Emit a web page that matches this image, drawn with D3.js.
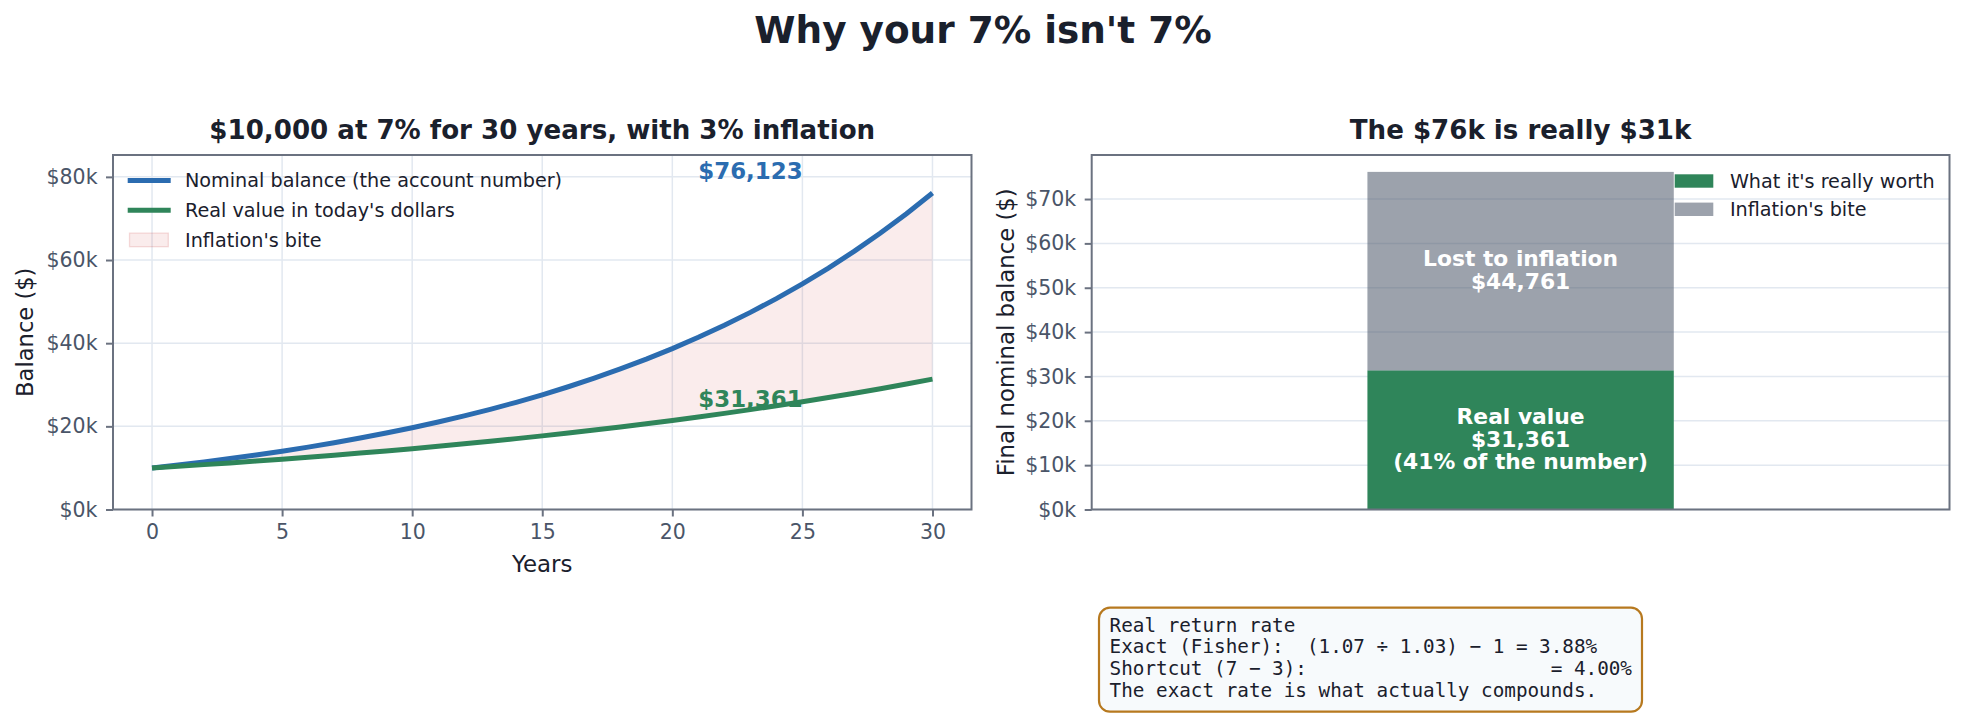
<!DOCTYPE html>
<html>
<head>
<meta charset="utf-8">
<script src="https://cdn.jsdelivr.net/npm/d3@7/dist/d3.min.js"></script>
<style>
  html, body { margin: 0; padding: 0; background: #ffffff; }
  svg { display: block; font-family: "DejaVu Sans", sans-serif; }
</style>
</head>
<body>
<svg id="chart" width="1965" height="717"></svg>
<script>
// ---------- DATA ----------
const years = [0,1,2,3,4,5,6,7,8,9,10,11,12,13,14,15,16,17,18,19,20,21,22,23,24,25,26,27,28,29,30];
const nominal = [10000,10700,11449,12250,13108,14026,15007,16058,17182,18385,19672,21049,22522,24098,25785,
                 27590,29522,31588,33799,36165,38697,41406,44304,47405,50724,54274,58074,62139,66488,71143,76123];
const realValue = [10000,10388,10792,11211,11646,12099,12568,13056,13563,14090,14637,15206,15796,16410,17047,
                   17709,18397,19111,19853,20624,21425,22257,23122,24020,24953,25922,26928,27974,29060,30189,31361];
const xTickValues = [0,5,10,15,20,25,30];
const leftYTicks = [0,20000,40000,60000,80000];
const rightYTicks = [0,10000,20000,30000,40000,50000,60000,70000];
const lineLegend = ["Nominal balance (the account number)", "Real value in today's dollars", "Inflation's bite"];
const barCategories = ["Final"];
const barReal = [31361];
const barLost = [44761];
const barLegend = ["What it's really worth", "Inflation's bite"];
const realLabelLines = ["Real value", "$31,361", "(41% of the number)"];
const lostLabelLines = ["Lost to inflation", "$44,761"];
const endLabels = [{text: "$76,123", x: 21, y: 79500, key: "nominal"},
                   {text: "$31,361", x: 21, y: 24730, key: "real"}];
const boxLines = ["Real return rate",
                  "Exact (Fisher):  (1.07 \u00f7 1.03) \u2212 1 = 3.88%",
                  "Shortcut (7 \u2212 3):                     = 4.00%",
                  "The exact rate is what actually compounds."];
const mainTitle = "Why your 7% isn't 7%";
const leftTitle = "$10,000 at 7% for 30 years, with 3% inflation";
const rightTitle = "The $76k is really $31k";

// ---------- STYLE ----------
const C = {
  blue: "#2b6cb0", green: "#2f855a", gray: "rgba(74,85,104,0.55)",
  fill: "rgba(197,48,48,0.09)", fillEdge: "rgba(197,48,48,0.16)",
  grid: "#e2e8f0", frame: "#6b7280", tick: "#4a5568", dark: "#1a202c"
};
const svg = d3.select("#chart");
const kfmt = d => "$" + (d / 1000) + "k";

// main title
svg.append("text").attr("x", 983).attr("y", 43.3).attr("text-anchor", "middle")
  .attr("font-size", 37.4).attr("font-weight", "bold").attr("fill", C.dark).text(mainTitle);

// ---------- LEFT PANEL ----------
const L = {x0: 113, x1: 971.5, y0: 155, y1: 509.5};
const xL = d3.scaleLinear().domain([-1.5, 31.5]).range([L.x0, L.x1]);
const yL = d3.scaleLinear().domain([0, 85260]).range([L.y1, L.y0]);
const gL = svg.append("g");

// grid
gL.append("g").selectAll("line").data(xTickValues).join("line")
  .attr("x1", d => xL(d)).attr("x2", d => xL(d)).attr("y1", L.y0).attr("y2", L.y1)
  .attr("stroke", C.grid).attr("stroke-width", 1.5);
gL.append("g").selectAll("line").data(leftYTicks).join("line")
  .attr("x1", L.x0).attr("x2", L.x1).attr("y1", d => yL(d)).attr("y2", d => yL(d))
  .attr("stroke", C.grid).attr("stroke-width", 1.5);

// area between
const area = d3.area().x((d, i) => xL(years[i])).y0((d, i) => yL(realValue[i])).y1((d, i) => yL(nominal[i]));
gL.append("path").datum(years).attr("d", area).attr("fill", C.fill).attr("stroke", "none");

const lineN = d3.line().x((d, i) => xL(years[i])).y(d => yL(d));
gL.append("path").datum(nominal).attr("d", lineN).attr("fill", "none").attr("stroke", C.blue).attr("stroke-width", 5);
gL.append("path").datum(realValue).attr("d", lineN).attr("fill", "none").attr("stroke", C.green).attr("stroke-width", 5);

// end labels
gL.selectAll("text.endlab").data(endLabels).join("text").attr("class", "endlab")
  .attr("x", d => xL(d.x)).attr("y", d => yL(d.y))
  .attr("font-size", 22.9).attr("font-weight", "bold")
  .attr("fill", d => d.key === "nominal" ? C.blue : C.green).text(d => d.text);

// axes
const axL = gL.append("g").attr("transform", `translate(${L.x0},0)`)
  .call(d3.axisLeft(yL).tickValues(leftYTicks).tickFormat(kfmt).tickSize(7).tickPadding(8.5));
const axB = gL.append("g").attr("transform", `translate(0,${L.y1})`)
  .call(d3.axisBottom(xL).tickValues(xTickValues).tickFormat(d3.format("d")).tickSize(7).tickPadding(7.5));
[axL, axB].forEach(a => {
  a.select(".domain").remove();
  a.selectAll(".tick line").attr("stroke", C.frame).attr("stroke-width", 2);
  a.selectAll(".tick text").attr("fill", C.tick).attr("font-size", 20.5).attr("font-family", "DejaVu Sans");
});
gL.append("rect").attr("x", L.x0).attr("y", L.y0).attr("width", L.x1 - L.x0).attr("height", L.y1 - L.y0)
  .attr("fill", "none").attr("stroke", C.frame).attr("stroke-width", 2);

// titles/labels
gL.append("text").attr("x", (L.x0 + L.x1) / 2).attr("y", 139.3).attr("text-anchor", "middle")
  .attr("font-size", 26.1).attr("font-weight", "bold").attr("fill", C.dark).text(leftTitle);
gL.append("text").attr("x", (L.x0 + L.x1) / 2).attr("y", 572).attr("text-anchor", "middle")
  .attr("font-size", 22.9).attr("fill", C.dark).text("Years");
gL.append("text").attr("transform", `translate(32.5,${(L.y0 + L.y1) / 2}) rotate(-90)`).attr("text-anchor", "middle")
  .attr("font-size", 22.6).attr("fill", C.dark).text("Balance ($)");

// legend
const legL = gL.append("g");
const legRowY = [180.5, 210.2, 239.9];
legL.append("line").attr("x1", 127.7).attr("x2", 170.7).attr("y1", legRowY[0]).attr("y2", legRowY[0])
  .attr("stroke", C.blue).attr("stroke-width", 5);
legL.append("line").attr("x1", 127.7).attr("x2", 170.7).attr("y1", legRowY[1]).attr("y2", legRowY[1])
  .attr("stroke", C.green).attr("stroke-width", 5);
legL.append("rect").attr("x", 129.5).attr("y", legRowY[2] - 6.8).attr("width", 38.8).attr("height", 13.6)
  .attr("fill", C.fill).attr("stroke", C.fillEdge).attr("stroke-width", 1.3);
legL.selectAll("text").data(lineLegend).join("text")
  .attr("x", 185).attr("y", (d, i) => legRowY[i] + 6.8)
  .attr("font-size", 19.2).attr("fill", C.dark).text(d => d);

// ---------- RIGHT PANEL ----------
const R = {x0: 1091.7, x1: 1949.5, y0: 155, y1: 509.5};
const xR = d3.scaleLinear().domain([-0.7, 0.7]).range([R.x0, R.x1]);
const yR = d3.scaleLinear().domain([0, 76123 * 1.05]).range([R.y1, R.y0]);
const gR = svg.append("g");
const barW = 0.5;

gR.append("g").selectAll("line").data(rightYTicks).join("line")
  .attr("x1", R.x0).attr("x2", R.x1).attr("y1", d => yR(d)).attr("y2", d => yR(d))
  .attr("stroke", C.grid).attr("stroke-width", 1.5);

// stacked bars
gR.selectAll("rect.real").data(barCategories).join("rect").attr("class", "real")
  .attr("x", (d, i) => xR(i - barW / 2)).attr("width", (d, i) => xR(i + barW / 2) - xR(i - barW / 2))
  .attr("y", (d, i) => yR(barReal[i])).attr("height", (d, i) => yR(0) - yR(barReal[i]))
  .attr("fill", C.green);
gR.selectAll("rect.lost").data(barCategories).join("rect").attr("class", "lost")
  .attr("x", (d, i) => xR(i - barW / 2)).attr("width", (d, i) => xR(i + barW / 2) - xR(i - barW / 2))
  .attr("y", (d, i) => yR(barReal[i] + barLost[i])).attr("height", (d, i) => yR(barReal[i]) - yR(barReal[i] + barLost[i]))
  .attr("fill", C.gray);

function multiLabel(lines, cx, cy) {
  const lh = 22.7, n = lines.length;
  gR.append("g").selectAll("text").data(lines).join("text")
    .attr("x", cx).attr("y", (d, i) => cy + 6.7 + (i - (n - 1) / 2) * lh)
    .attr("text-anchor", "middle").attr("font-size", 21.8).attr("font-weight", "bold")
    .attr("fill", "#ffffff").text(d => d);
}
multiLabel(realLabelLines, xR(0), (yR(0) + yR(barReal[0])) / 2);
multiLabel(lostLabelLines, xR(0), (yR(barReal[0]) + yR(barReal[0] + barLost[0])) / 2);

const axR = gR.append("g").attr("transform", `translate(${R.x0},0)`)
  .call(d3.axisLeft(yR).tickValues(rightYTicks).tickFormat(kfmt).tickSize(7).tickPadding(8.5));
axR.select(".domain").remove();
axR.selectAll(".tick line").attr("stroke", C.frame).attr("stroke-width", 2);
axR.selectAll(".tick text").attr("fill", C.tick).attr("font-size", 20.5).attr("font-family", "DejaVu Sans");
gR.append("rect").attr("x", R.x0).attr("y", R.y0).attr("width", R.x1 - R.x0).attr("height", R.y1 - R.y0)
  .attr("fill", "none").attr("stroke", C.frame).attr("stroke-width", 2);

gR.append("text").attr("x", (R.x0 + R.x1) / 2).attr("y", 139.3).attr("text-anchor", "middle")
  .attr("font-size", 26.1).attr("font-weight", "bold").attr("fill", C.dark).text(rightTitle);
gR.append("text").attr("transform", `translate(1014,${(R.y0 + R.y1) / 2}) rotate(-90)`).attr("text-anchor", "middle")
  .attr("font-size", 22.8).attr("fill", C.dark).text("Final nominal balance ($)");

// legend right
const legR = gR.append("g");
const legRY = [181, 209.3];
const legColors = [C.green, C.gray];
legR.selectAll("rect").data(barLegend).join("rect")
  .attr("x", 1674.7).attr("y", (d, i) => legRY[i] - 6.7).attr("width", 38.6).attr("height", 13.4)
  .attr("fill", (d, i) => legColors[i]);
legR.selectAll("text").data(barLegend).join("text")
  .attr("x", 1729.9).attr("y", (d, i) => legRY[i] + 6.8)
  .attr("font-size", 19.2).attr("fill", C.dark).text(d => d);

// ---------- TEXT BOX ----------
const box = svg.append("g");
box.append("rect").attr("x", 1099).attr("y", 607.7).attr("width", 543).attr("height", 104)
  .attr("rx", 11).attr("ry", 11).attr("fill", "#f7fafc").attr("stroke", "#b7791f").attr("stroke-width", 2.2);
box.selectAll("text").data(boxLines).join("text")
  .attr("x", 1109.6).attr("y", (d, i) => 631.5 + i * 21.8)
  .attr("font-family", "DejaVu Sans Mono").attr("font-size", 19.3).attr("fill", C.dark)
  .style("white-space", "pre").text(d => d);
</script>
</body>
</html>
